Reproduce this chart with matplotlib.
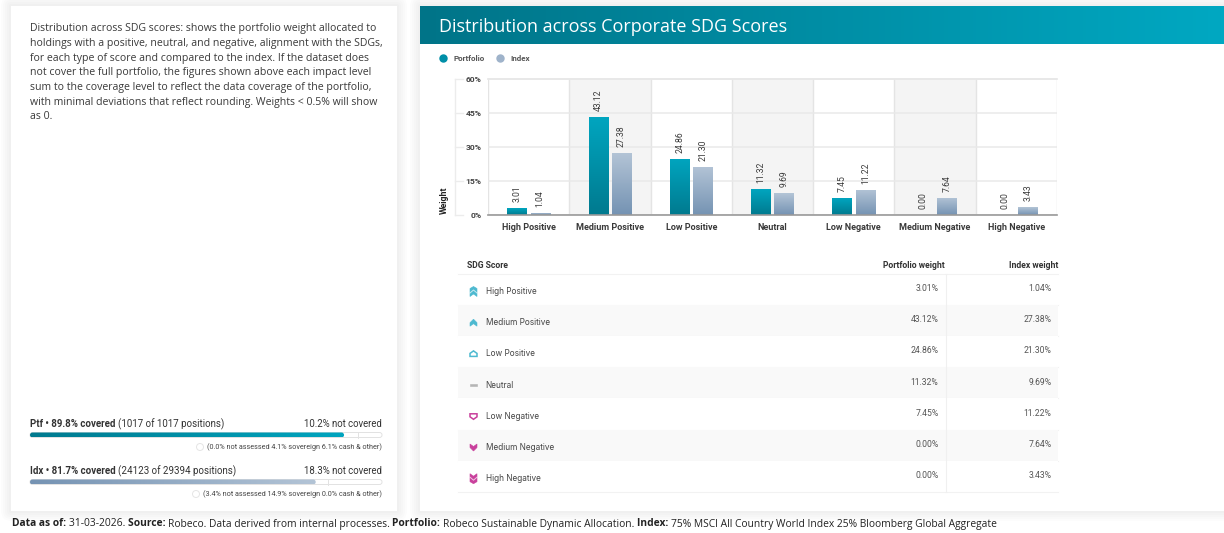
import matplotlib
matplotlib.use("Agg")
import matplotlib.pyplot as plt
from matplotlib.colors import LinearSegmentedColormap
from matplotlib.patches import Circle, Polygon, Rectangle, FancyBboxPatch
import numpy as np

categories = ["High Positive", "Medium Positive", "Low Positive", "Neutral",
              "Low Negative", "Medium Negative", "High Negative"]
portfolio = [3.01, 43.12, 24.86, 11.32, 7.45, 0.00, 0.00]
index = [1.04, 27.38, 21.30, 9.69, 11.22, 7.64, 3.43]
yticks = [0, 15, 30, 45, 60]

intro = [
    "Distribution across SDG scores: shows the portfolio weight allocated to",
    "holdings with a positive, neutral, and negative, alignment with the SDGs,",
    "for each type of score and compared to the index. If the dataset does",
    "not cover the full portfolio, the figures shown above each impact level",
    "sum to the coverage level to reflect the data coverage of the portfolio,",
    "with minimal deviations that reflect rounding. Weights < 0.5% will show",
    "as 0.",
]
ptf_cover = [89.8, 4.1]
idx_cover = [81.7, 3.4]

TEAL_DARK = "#007a8f"
TEAL_LIGHT = "#00a5bf"
BLUE_DARK = "#7593b3"
BLUE_LIGHT = "#b3c4d6"
TEXT = "#333333"
BODY = "Open Sans"
CHART = "Roboto"


def px(size):
    # font sizes below are given in pixels
    return size * 0.72


fig = plt.figure(figsize=(12.24, 5.33), dpi=100, facecolor="white")
bg = fig.add_axes([0, 0, 1, 1], zorder=0)
bg.set_xlim(0, 1224)
bg.set_ylim(533, 0)
bg.axis("off")


def gradient(x0, x1, y0, y1, c0, c1, clip=None, zorder=3):
    cmap = LinearSegmentedColormap.from_list("g", [c0, c1])
    ramp = np.linspace(0, 1, 256).reshape(1, -1)
    im = bg.imshow(ramp, cmap=cmap, extent=[x0, x1, y1, y0], aspect="auto", zorder=zorder)
    if clip is not None:
        im.set_clip_path(clip)
    bg.set_xlim(0, 1224)
    bg.set_ylim(533, 0)


def panel(x0, y0, x1, y1):
    # soft shadow, then the white card
    for grow in [10, 8, 6, 4, 2]:
        bg.add_patch(FancyBboxPatch((x0 - grow, y0 - grow), x1 - x0 + 2 * grow, y1 - y0 + 2 * grow,
                                    boxstyle="round,pad=0,rounding_size=%d" % grow,
                                    fc="black", ec="none", alpha=0.012, zorder=1))
    bg.add_patch(Rectangle((x0, y0), x1 - x0, y1 - y0, fc="white", ec="none", zorder=2))


panel(11, 6, 397, 511)
panel(420, 6, 1224, 511)

# left panel text
for i, line in enumerate(intro):
    bg.text(30, 29 + i * 14.6, line, fontsize=px(10.45), family=BODY, color="#3a3a3a",
            va="center", zorder=4)


def mixed(x, y, parts, size, family, color=TEXT):
    # runs of bold / regular text placed one after the other
    rend = fig.canvas.get_renderer()
    for s, bold in parts:
        t = bg.text(x, y, s, fontsize=px(size), family=family, color=color, va="center",
                    fontweight="bold" if bold else "normal", zorder=5)
        x += t.get_window_extent(rend).width


def cover_bar(y, values, c0, c1):
    x0, x1 = 30, 382
    scale = 3.497
    track = FancyBboxPatch((x0, y - 2.5), x1 - x0, 5, boxstyle="round,pad=0,rounding_size=2.5",
                           fc="white", ec="#e2e2e2", lw=0.7, zorder=3)
    bg.add_patch(track)
    end = x0 + values[0] * scale
    fill = FancyBboxPatch((x0, y - 2.5), end - x0, 5, boxstyle="round,pad=0,rounding_size=2.5",
                          fc="none", ec="none", zorder=3)
    bg.add_patch(fill)
    gradient(x0, end, y - 2.5, y + 2.5, c0, c1, clip=fill, zorder=4)
    sep = end + values[1] * scale
    bg.plot([sep, sep], [y - 2.5, y + 2.5], color="#e2e2e2", lw=0.7, zorder=4)


mixed(30, 424, [("Ptf • 89.8% covered ", True), ("(1017 of 1017 positions)", False)], 9.75, CHART)
bg.text(382, 424, "10.2% not covered", fontsize=px(9.65), family=CHART, color=TEXT, ha="right",
        va="center", zorder=5)
cover_bar(435, ptf_cover, TEAL_DARK, TEAL_LIGHT)
bg.add_patch(Circle((200, 447), 3.5, fc="white", ec="#e5e5e5", lw=0.7, zorder=4))
bg.text(382, 447, "(0.0% not assessed 4.1% sovereign 6.1% cash & other)", fontsize=px(7.25),
        family=CHART, color="#444444", ha="right", va="center", zorder=5)

mixed(30, 471, [("Idx • 81.7% covered ", True), ("(24123 of 29394 positions)", False)], 9.75, CHART)
bg.text(382, 471, "18.3% not covered", fontsize=px(9.65), family=CHART, color=TEXT, ha="right",
        va="center", zorder=5)
cover_bar(482, idx_cover, BLUE_DARK, BLUE_LIGHT)
bg.add_patch(Circle((196, 494), 3.5, fc="white", ec="#e5e5e5", lw=0.7, zorder=4))
bg.text(382, 494, "(3.4% not assessed 14.9% sovereign 0.0% cash & other)", fontsize=px(7.25),
        family=CHART, color="#444444", ha="right", va="center", zorder=5)

# footer
mixed(12, 524, [("Data as of: ", True), ("31-03-2026. ", False), ("Source: ", True),
                ("Robeco. Data derived from internal processes. ", False), ("Portfolio: ", True),
                ("Robeco Sustainable Dynamic Allocation. ", False), ("Index: ", True),
                ("75% MSCI All Country World Index 25% Bloomberg Global Aggregate", False)],
      10.3, BODY, color="#222222")

# header band
gradient(420, 1224, 6, 44, "#007488", "#00a8c2")
bg.text(439, 26.5, "Distribution across Corporate SDG Scores", fontsize=px(18), family=BODY,
        color="white", va="center", zorder=5)

# legend
bg.add_patch(Circle((443.5, 58.5), 4.2, fc="#008fa8", ec="none", zorder=4))
bg.add_patch(Circle((500.5, 58.5), 4.2, fc="#9fb3ca", ec="none", zorder=4))
bg.text(453, 58.5, "Portfolio", fontsize=px(8), family=CHART, fontweight="bold", color="#555555",
        va="center", zorder=5)
bg.text(510, 58.5, "Index", fontsize=px(8), family=CHART, fontweight="bold", color="#555555",
        va="center", zorder=5)

# bar chart
ax = fig.add_axes([488 / 1224, 1 - 215 / 533, (1057 - 488) / 1224, (215 - 79) / 533], zorder=3)
ax.patch.set_alpha(0)
pos = np.arange(len(categories))
width = 0.24
shift = 0.143
for i in pos[1::2]:
    ax.axvspan(i - 0.5, i + 0.5, color="#f4f4f4", lw=0, zorder=0)
ax.set_xlim(-0.5, len(categories) - 0.5)
ax.set_ylim(0, 60)
ax.set_yticks(yticks)
ax.set_yticklabels(["%d%%" % v for v in yticks], fontsize=px(8.5), family=CHART, fontweight="bold",
                   color="#444444")
ax.set_xticks(pos)
ax.set_xticklabels(categories, fontsize=px(9.0), family=CHART, fontweight="bold", color="#3a3a3a")
ax.tick_params(axis="both", length=0)
ax.tick_params(axis="x", pad=6)
ax.tick_params(axis="y", pad=4.5)
ax.yaxis.grid(True, color="#e9e9e9", lw=1.1, zorder=1)
for x in np.arange(-0.5, len(categories)):
    ax.axvline(x, color="#e4e4e4", lw=1.0, zorder=1)
for side in ["top", "left", "right"]:
    ax.spines[side].set_visible(False)
ax.plot([-0.5, 6.5], [60, 60], color="#e4e4e4", lw=1.2, clip_on=False, zorder=1)
ax.spines["bottom"].set_color("#999999")
ax.spines["bottom"].set_linewidth(1.2)
ax.spines["bottom"].set_zorder(6)


def bars(xs, values, c_top, c_bottom):
    cmap = LinearSegmentedColormap.from_list("b", [c_top, c_bottom])
    rects = ax.bar(xs, values, width, color="none", ec="none", zorder=3)
    for rect, val in zip(rects, values):
        if val > 0:
            left = rect.get_x()
            im = ax.imshow(np.linspace(0, 1, 64).reshape(-1, 1), cmap=cmap, aspect="auto",
                           extent=[left, left + width, 0, val], zorder=3)
            im.set_clip_path(rect)
        ax.annotate("%.2f" % val, (rect.get_x() + width / 2, val), xytext=(0, 4.3),
                    textcoords="offset points", rotation=90, ha="center", va="bottom",
                    fontsize=px(8.7), family=CHART, color="#3a3a3a", zorder=5)


bars(pos - shift, portfolio, TEAL_LIGHT, TEAL_DARK)
bars(pos + shift, index, BLUE_LIGHT, BLUE_DARK)
ax.set_xlim(-0.5, len(categories) - 0.5)
ax.set_ylim(0, 60)

# left bracket of the y axis
bg.plot([454.5, 454.5], [79, 215], color="#ececec", lw=1.0, zorder=3)
for v in yticks:
    y = 215 - v / 60 * 136
    bg.plot([454.5, 463], [y, y], color="#ececec", lw=1.0, zorder=3)
bg.text(444, 200.5, "Weight", fontsize=px(8.8), family=CHART, fontweight="bold", color="#222222",
        rotation=90, ha="center", va="center", zorder=5)

# table
ROW0 = 273.5
ROWH = 31.2
bg.text(467, 265.5, "SDG Score", fontsize=px(8.7), family=CHART, fontweight="bold", color="#333333",
        va="center", zorder=5)
bg.text(945, 265.5, "Portfolio weight", fontsize=px(8.7), family=CHART, fontweight="bold",
        color="#333333", ha="right", va="center", zorder=5)
bg.text(1058, 265.5, "Index weight", fontsize=px(8.7), family=CHART, fontweight="bold",
        color="#333333", ha="right", va="center", zorder=5)

BLUE_ICON = "#4db9d0"
PINK_ICON = "#c9409c"
chev_up = [(-3.5, 0), (0, -3.5), (3.5, 0), (3.5, 3.5), (0, 1), (-3.5, 3.5)]
chev_dn = [(a, -b) for a, b in chev_up]
notch_up = [(-3.5, 1.5), (0, -1.5), (3.5, 1.5)]
notch_dn = [(a, -b) for a, b in notch_up]
icons = [
    (BLUE_ICON, [(0, -5), (3.5, -3), (3.5, 5), (0, 2.5), (-3.5, 5), (-3.5, -3)], notch_up, False),
    (BLUE_ICON, chev_up, None, False),
    (BLUE_ICON, [(-3.5, 2.5), (-3.5, -0.5), (0, -3), (3.5, -0.5), (3.5, 2.5)], None, True),
    ("#b5b5b5", [(-3.5, -1), (3.5, -1), (3.5, 1), (-3.5, 1)], None, False),
    (PINK_ICON, [(-3.5, -2.5), (3.5, -2.5), (3.5, 0.5), (0, 3), (-3.5, 0.5)], None, True),
    (PINK_ICON, chev_dn, None, False),
    (PINK_ICON, [(0, 5), (3.5, 3), (3.5, -5), (0, -2.5), (-3.5, -5), (-3.5, 3)], notch_dn, False),
]
for i, name in enumerate(categories):
    top = ROW0 + i * ROWH
    bg.add_patch(Rectangle((458, top), 600, ROWH, fc="#f9f9f9" if i % 2 else "white",
                           ec="none", zorder=3))
    bg.plot([458, 1058], [top + ROWH] * 2, color="#f2f2f2", lw=0.8, zorder=3)
    bg.text(485.5, top + 18, name, fontsize=px(8.2), family="Inter", color="#444444",
            va="center", zorder=5)
    bg.text(938.5, top + 15, "%.2f%%" % portfolio[i], fontsize=px(8.7), family=CHART,
            color="#555555", ha="right", va="center", zorder=5)
    bg.text(1051.5, top + 15, "%.2f%%" % index[i], fontsize=px(8.7), family=CHART,
            color="#555555", ha="right", va="center", zorder=5)
    color, shape, notch, hollow = icons[i]
    cx, cy = 473.5, top + 18
    bg.add_patch(Polygon([(cx + a, cy + b) for a, b in shape], closed=True,
                         fc="none" if hollow else color, ec=color,
                         lw=1.1 if hollow else 0.4, zorder=4))
    if notch is not None:
        bg.plot([cx + a for a, b in notch], [cy + b for a, b in notch], color="white", lw=0.7,
                alpha=0.7, zorder=5)
bg.plot([458, 1058], [ROW0, ROW0], color="#f2f2f2", lw=0.8, zorder=3)
bg.plot([945.5, 945.5], [ROW0, ROW0 + 7 * ROWH], color="#f0f0f0", lw=0.8, zorder=4)

bg.set_xlim(0, 1224)
bg.set_ylim(533, 0)
fig.savefig("out.png", dpi=100)
